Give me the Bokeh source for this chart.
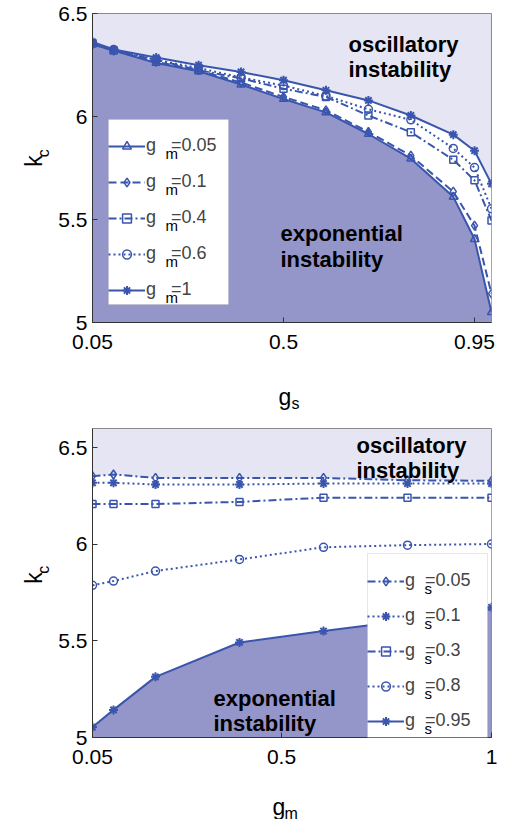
import numpy as np
from bokeh.plotting import figure
from bokeh.layouts import column, row
from bokeh.models import Range1d, FixedTicker, Label, Legend, LegendItem, BoxAnnotation
from bokeh.embed import file_html
from bokeh.resources import INLINE

# ---------------- data: top panel (k_c versus g_s) ----------------
gs_top = [0.05, 0.1, 0.2, 0.3, 0.4, 0.5, 0.6, 0.7, 0.8, 0.9, 0.95, 0.99]
kc_gm005 = [6.350, 6.320, 6.260, 6.220, 6.155, 6.085, 6.020, 5.915, 5.795, 5.610, 5.405, 5.050]
kc_gm01 = [6.350, 6.320, 6.265, 6.225, 6.165, 6.095, 6.030, 5.925, 5.810, 5.635, 5.470, 5.140]
kc_gm04 = [6.355, 6.320, 6.275, 6.225, 6.185, 6.135, 6.095, 6.005, 5.924, 5.790, 5.690, 5.495]
kc_gm06 = [6.357, 6.325, 6.275, 6.235, 6.190, 6.150, 6.100, 6.035, 5.984, 5.845, 5.752, 5.552]
kc_gm1 = [6.362, 6.325, 6.286, 6.249, 6.216, 6.176, 6.127, 6.078, 6.005, 5.912, 5.834, 5.673]
top_values = ["=0.05", "=0.1", "=0.4", "=0.6", "=1"]
top_xticks = [0.05, 0.5, 0.95]
top_xtick_labels = ["0.05", "0.5", "0.95"]

# ---------------- data: bottom panel (k_c versus g_m) ----------------
gm_bot = [0.05, 0.1, 0.2, 0.4, 0.6, 0.8, 1.0]
kc_gs005 = [6.353, 6.362, 6.344, 6.344, 6.344, 6.332, 6.329]
kc_gs01 = [6.319, 6.319, 6.310, 6.310, 6.315, 6.315, 6.315]
kc_gs03 = [6.209, 6.209, 6.209, 6.220, 6.242, 6.242, 6.242]
kc_gs08 = [5.788, 5.810, 5.862, 5.922, 5.985, 5.996, 6.002]
kc_gs095 = [5.054, 5.143, 5.314, 5.492, 5.551, 5.606, 5.674]
bot_values = ["=0.05", "=0.1", "=0.3", "=0.8", "=0.95"]
bot_xticks = [0.05, 0.5, 1.0]
bot_xtick_labels = ["0.05", "0.5", "1"]

yticks = [5, 5.5, 6, 6.5]
ytick_labels = ["5", "5.5", "6", "6.5"]

BLUE = "#3A55AD"
DARK = "#9495C9"
LIGHT = "#E5E5F3"
FONT = "Liberation Sans"

W = 505
STRIP_W = 50          # strip that carries the y-axis title
FRAME_L = 92          # page x of the plot frame
FW, FH = 399, 309
RIGHT = 14

# legend geometry
LPAD, LGW, LSTAND, IH = 8, 37, 1, 22
G_W = 10         # width of the "g" in the 18px legend font
ROW_SHIFT = 0


def make_fig(height, top, bottom, xr, yr, xticks, xlabels):
    p = figure(width=W - STRIP_W, height=height, output_backend="svg", toolbar_location=None,
               x_range=Range1d(*xr), y_range=Range1d(*yr),
               min_border_left=FRAME_L - STRIP_W, min_border_right=RIGHT,
               min_border_top=top, min_border_bottom=bottom)
    p.background_fill_color = LIGHT
    p.border_fill_color = "white"
    p.outline_line_color = "#8a8a8a"
    p.xgrid.visible = False
    p.ygrid.visible = False
    p.xaxis.ticker = FixedTicker(ticks=xticks)
    p.xaxis.major_label_overrides = {t: l for t, l in zip(xticks, xlabels)}
    p.yaxis.ticker = FixedTicker(ticks=yticks)
    p.yaxis.major_label_overrides = {t: l for t, l in zip(yticks, ytick_labels)}
    for ax in (p.xaxis[0], p.yaxis[0]):
        ax.major_tick_in = 5
        ax.major_tick_out = 0
        ax.minor_tick_line_color = None
        ax.axis_line_color = "#333333"
        ax.major_tick_line_color = "#333333"
        ax.major_label_text_font = FONT
        ax.major_label_text_font_size = "21px"
        ax.major_label_text_color = "black"
    p.xaxis.major_label_standoff = 12
    p.yaxis.major_label_standoff = 5
    return p


def strip(width, height):
    s = figure(width=width, height=height, output_backend="svg", toolbar_location=None,
               x_range=Range1d(0, width), y_range=Range1d(0, height),
               x_axis_location=None, y_axis_location=None, min_border=0)
    s.outline_line_color = None
    s.background_fill_color = "white"
    s.border_fill_color = "white"
    s.xgrid.visible = False
    s.ygrid.visible = False
    return s


def strip_text(s, x0, y0, xp, yp, text, size, angle=0.0):
    # xp, yp are page pixels; (x0, y0) is the strip's top-left corner on the page
    s.add_layout(Label(x=xp - x0, y=s.height - (yp - y0), text=text, text_font=FONT,
                       text_font_size=size, text_color="black", text_align="left",
                       text_baseline="alphabetic", angle=angle))


def to_data(xp, yp, ftop, xr, yr):
    x = xr[0] + (xp - FRAME_L) / FW * (xr[1] - xr[0])
    y = yr[0] + (ftop + FH - yp) / FH * (yr[1] - yr[0])
    return x, y


def add_text(p, xp, yp, ftop, xr, yr, text, size, bold=False):
    x, y = to_data(xp, yp, ftop, xr, yr)
    p.add_layout(Label(x=x, y=y, text=text, text_font=FONT, text_font_size=size,
                       text_font_style="bold" if bold else "normal", text_color="black",
                       text_align="left", text_baseline="alphabetic"))


def draw_series(p, x, ys, styles, values, box, first_row, spacing, sub, gap, ftop, xr, yr):
    # white legend box (page pixels: left, top, right, bottom)
    l, t = to_data(box[0], box[1], ftop, xr, yr)
    r, b = to_data(box[2], box[3], ftop, xr, yr)
    p.add_layout(BoxAnnotation(left=l, right=r, top=t, bottom=b, fill_color="white",
                               fill_alpha=1.0, line_color="#b0b0b0", line_width=1))
    items = []
    for y, (dash, marker, msize, mlw), val in zip(ys, styles, values):
        r1 = p.line(x, y, line_color=BLUE, line_width=2, line_dash=dash)
        r2 = p.scatter(x, y, marker=marker, size=msize, line_color=BLUE, fill_color=None,
                       line_width=mlw)
        items.append(LegendItem(label="g" + " " * gap + val, renderers=[r1, r2]))
    n = len(values)
    pitch = IH + spacing
    last_row = first_row + (n - 1) * pitch
    legend_bottom = last_row + IH / 2 + LPAD
    loc = (box[0] - FRAME_L, ftop + FH - legend_bottom + ROW_SHIFT)
    # subscripts of the legend labels
    xs = box[0] + LPAD + LGW + LSTAND + G_W + 1
    for i in range(n):
        add_text(p, xs, first_row + i * pitch + 15, ftop, xr, yr, sub, "15px")
    leg = Legend(items=items, location=loc, padding=LPAD, spacing=spacing, margin=0,
                 glyph_width=LGW, glyph_height=IH, label_height=IH, label_standoff=LSTAND,
                 label_text_font=FONT, label_text_font_size="18px",
                 background_fill_alpha=0.0, border_line_color=None)
    p.add_layout(leg)


# ---------------- top panel ----------------
TOP_T, TOP_B = 13, 37
TOP_H = TOP_T + FH + TOP_B                     # 359
FTOP1 = TOP_T
xr1, yr1 = (0.05, 0.99), (5.0, 6.5)
p1 = make_fig(TOP_H, TOP_T, TOP_B, xr1, yr1, top_xticks, top_xtick_labels)
p1.varea(x=gs_top, y1=kc_gm005, y2=kc_gm1, fill_color="white")
p1.varea(x=gs_top, y1=[yr1[0]] * len(gs_top), y2=kc_gm005, fill_color=DARK)
styles_top = [("solid", "triangle", 8, 1.5), ("8 4", "diamond", 9, 1.5),
              ("8 3 2 3", "square", 7, 1.5), ("2 3", "circle", 8, 1.5),
              ("solid", "asterisk", 9, 2.0)]
add_text(p1, 348, 44, FTOP1, xr1, yr1, "oscillatory", "22px", bold=True)
add_text(p1, 348, 69, FTOP1, xr1, yr1, "instability", "22px", bold=True)
add_text(p1, 280, 233, FTOP1, xr1, yr1, "exponential", "22px", bold=True)
add_text(p1, 280, 259, FTOP1, xr1, yr1, "instability", "22px", bold=True)
draw_series(p1, gs_top, [kc_gm005, kc_gm01, kc_gm04, kc_gm06, kc_gm1], styles_top,
            top_values, (108, 119, 228, 304), 137.5, 14, "m", 3, FTOP1, xr1, yr1)

ylab1 = strip(STRIP_W, TOP_H)
strip_text(ylab1, 0, 0, 33, 178, "k", "23px", angle=np.pi / 2)
strip_text(ylab1, 0, 0, 43, 167, "c", "16px", angle=np.pi / 2)

XL1_H = 410 - TOP_H                            # 51
xlab1 = strip(W, XL1_H)
strip_text(xlab1, 0, TOP_H, 278, 396, "g", "23px")
strip_text(xlab1, 0, TOP_H, 291, 403, "s", "16px")

# ---------------- bottom panel ----------------
Y2 = TOP_H + XL1_H                             # 410
BOT_T, BOT_B = 18, 37
BOT_H = BOT_T + FH + BOT_B                     # 364
FTOP2 = Y2 + BOT_T                             # 428 on the page
xr2, yr2 = (0.05, 1.0), (5.0, 6.6)
p2 = make_fig(BOT_H, BOT_T, BOT_B, xr2, yr2, bot_xticks, bot_xtick_labels)
p2.varea(x=gm_bot, y1=kc_gs095, y2=kc_gs005, fill_color="white")
p2.varea(x=gm_bot, y1=[yr2[0]] * len(gm_bot), y2=kc_gs095, fill_color=DARK)
styles_bot = [("8 3 2 3", "diamond", 9, 1.5), ("2 3", "asterisk", 9, 2.0),
              ("8 3 2 3", "square", 7, 1.5), ("2 3", "circle", 8, 1.5),
              ("solid", "asterisk", 9, 2.0)]
add_text(p2, 356, 445, FTOP2, xr2, yr2, "oscillatory", "22px", bold=True)
add_text(p2, 356, 470, FTOP2, xr2, yr2, "instability", "22px", bold=True)
add_text(p2, 213, 698, FTOP2, xr2, yr2, "exponential", "22px", bold=True)
add_text(p2, 213, 723, FTOP2, xr2, yr2, "instability", "22px", bold=True)
draw_series(p2, gm_bot, [kc_gs005, kc_gs01, kc_gs03, kc_gs08, kc_gs095], styles_bot,
            bot_values, (367, 553, 487, 737), 572.5, 13, "s", 2, FTOP2, xr2, yr2)

ylab2 = strip(STRIP_W, BOT_H)
strip_text(ylab2, 0, Y2, 33, 593, "k", "23px", angle=np.pi / 2)
strip_text(ylab2, 0, Y2, 43, 581, "c", "16px", angle=np.pi / 2)

Y3 = Y2 + BOT_H                                # 774
XL2_H = 819 - Y3                               # 45
xlab2 = strip(W, XL2_H)
strip_text(xlab2, 0, Y3, 272, 806, "g", "23px")
strip_text(xlab2, 0, Y3, 284, 813, "m", "16px")

layout = column(row(ylab1, p1, spacing=0), xlab1, row(ylab2, p2, spacing=0), xlab2,
                spacing=0)
html = file_html(layout, INLINE)
open("out.html", "w").write(html)
